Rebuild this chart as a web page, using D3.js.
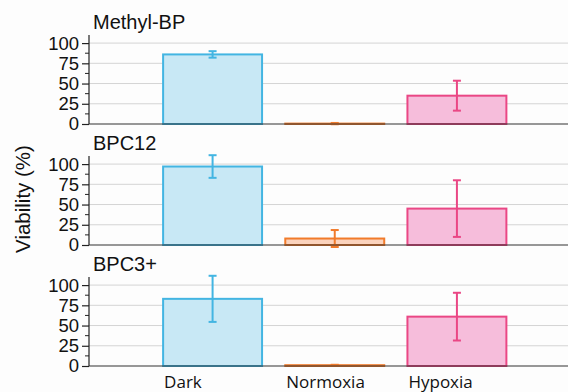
<!DOCTYPE html>
<html>
<head>
<meta charset="utf-8">
<script src="https://cdn.jsdelivr.net/npm/d3@7"></script>
<style>
  body { margin: 0; background: #fdfdfd; }
  svg { display: block; }
</style>
</head>
<body>
<svg id="chart"></svg>
<script>
// conditions along x
const categories = ["Dark", "Normoxia", "Hypoxia"];
// one panel per compound
const panelTitles = ["Methyl-BP", "BPC12", "BPC3+"];
// mean viability (%) per panel, per condition
const methylMeans = [86, 0.5, 35];
const methylErrors = [4, 0.8, 18.5];
const bpc12Means = [97, 8, 45];
const bpc12Errors = [14, 10.5, 35];
const bpc3Means = [83, 1, 61];
const bpc3Errors = [28.5, 0.5, 29.5];
const yTicks = [0, 25, 50, 75, 100];

const panels = [
    { title: panelTitles[0], means: methylMeans, errors: methylErrors },
    { title: panelTitles[1], means: bpc12Means, errors: bpc12Errors },
    { title: panelTitles[2], means: bpc3Means, errors: bpc3Errors }
];

const fills = ["#c8e8f5", "#fbd3bd", "#f6bddb"];
const strokes = ["#43b5e2", "#f17b2b", "#ea4785"];

const width = 568, height = 392;
const svg = d3.select("#chart")
    .attr("width", width)
    .attr("height", height);

const axisX = 89;
const panelTops = [35, 156, 277];   // y of the axis top (value 110)
const panelH = 89;                   // 0..110 maps to this height

const x = d3.scaleBand()
    .domain(categories)
    .range([151.5, 518])
    .paddingInner(0.19)
    .paddingOuter(0.095);

panels.forEach((p, pi) => {
    const y = d3.scaleLinear()
        .domain([0, 110])
        .range([panelTops[pi] + panelH, panelTops[pi]]);

    const g = svg.append("g");

    // gridlines
    g.selectAll(".grid")
        .data(yTicks.filter(t => t > 0))
        .enter().append("line")
        .attr("x1", axisX)
        .attr("x2", width)
        .attr("y1", d => y(d))
        .attr("y2", d => y(d))
        .attr("stroke", "#d4d4d4")
        .attr("stroke-width", 1);

    // bars
    g.selectAll(".bar")
        .data(p.means)
        .enter().append("rect")
        .attr("x", (d, i) => x(categories[i]))
        .attr("y", d => y(d))
        .attr("width", x.bandwidth())
        .attr("height", d => y(0) - y(d))
        .attr("fill", (d, i) => fills[i])
        .attr("stroke", (d, i) => strokes[i])
        .attr("stroke-width", 2);

    // error bars
    const errs = p.means.map((m, i) => ({ m, e: p.errors[i], i }));
    const eg = g.selectAll(".err")
        .data(errs)
        .enter().append("g")
        .attr("stroke", d => strokes[d.i])
        .attr("stroke-width", 2);
    const cx = d => x(categories[d.i]) + x.bandwidth() / 2;
    eg.append("line")
        .attr("x1", cx).attr("x2", cx)
        .attr("y1", d => y(d.m + d.e))
        .attr("y2", d => y(d.m - d.e));
    eg.append("line")
        .attr("x1", d => cx(d) - 4).attr("x2", d => cx(d) + 4)
        .attr("y1", d => y(d.m + d.e)).attr("y2", d => y(d.m + d.e));
    eg.append("line")
        .attr("x1", d => cx(d) - 4).attr("x2", d => cx(d) + 4)
        .attr("y1", d => y(d.m - d.e)).attr("y2", d => y(d.m - d.e));

    // baseline
    g.append("line")
        .attr("x1", axisX).attr("x2", width)
        .attr("y1", y(0)).attr("y2", y(0))
        .attr("stroke", "#333").attr("stroke-width", 1.2);

    // y axis with minor ticks
    const yAxis = g.append("g")
        .attr("transform", `translate(${axisX},0)`)
        .call(d3.axisLeft(y).tickValues(yTicks).tickSize(7).tickPadding(3));
    yAxis.select(".domain")
        .attr("d", `M0,${y(110)}V${y(0)}`)
        .attr("stroke", "#222").attr("stroke-width", 1.2);
    yAxis.selectAll(".tick line").attr("stroke", "#222").attr("stroke-width", 1.2);
    yAxis.selectAll("text")
        .attr("font-family", "Liberation Sans, Arial, sans-serif")
        .attr("font-size", "18.5px")
        .attr("fill", "#111");
    g.selectAll(".minor")
        .data([12.5, 37.5, 62.5, 87.5])
        .enter().append("line")
        .attr("x1", axisX - 4).attr("x2", axisX)
        .attr("y1", d => y(d)).attr("y2", d => y(d))
        .attr("stroke", "#222").attr("stroke-width", 1);

    // panel title
    g.append("text")
        .attr("x", 93)
        .attr("y", panelTops[pi] - 6)
        .attr("font-family", "Liberation Sans, Arial, sans-serif")
        .attr("font-size", "20px")
        .attr("fill", "#111")
        .text(p.title);
});

// x labels under the last panel
svg.selectAll(".xlabel")
    .data(categories)
    .enter().append("text")
    .attr("x", d => x(d) + 1)
    .attr("y", 388)
    .attr("font-family", "Open Sans, sans-serif")
    .attr("font-size", "17px")
    .attr("fill", "#111")
    .text(d => d);

// y axis label
svg.append("text")
    .attr("transform", "rotate(-90)")
    .attr("x", -199)
    .attr("y", 30)
    .attr("text-anchor", "middle")
    .attr("font-family", "Liberation Sans, Arial, sans-serif")
    .attr("font-size", "20.5px")
    .attr("fill", "#111")
    .text("Viability (%)");
</script>
</body>
</html>
